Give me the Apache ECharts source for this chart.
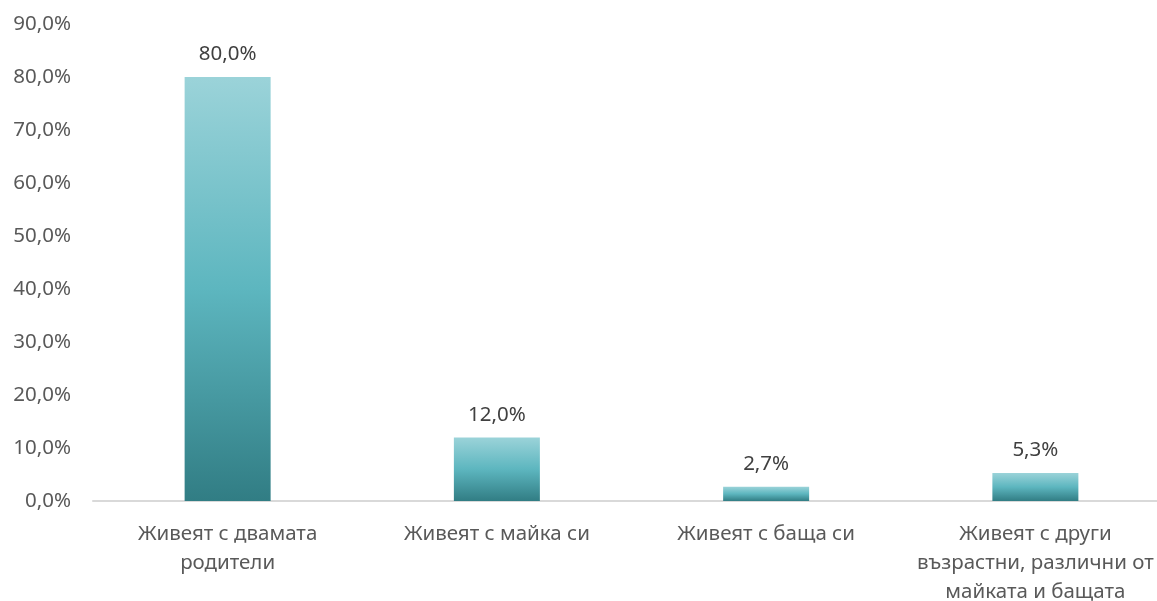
<!DOCTYPE html>
<html>
<head>
<meta charset="utf-8">
<script src="https://cdn.jsdelivr.net/npm/echarts@6/dist/echarts.min.js"></script>
<style>html,body{margin:0;padding:0;background:#fff}#c{width:1157px;height:601px}</style>
</head>
<body>
<div id="c"></div>
<script>
const categories = [
  "Живеят с двамата\nродители",
  "Живеят с майка си",
  "Живеят с баща си",
  "Живеят с други\nвъзрастни, различни от\nмайката и бащата"
];
const values = [80.0, 12.0, 2.7, 5.3];
const yTicks = { min: 0, max: 90, interval: 10 };

const fmt = v => v.toFixed(1).replace('.', ',') + '%';
const chart = echarts.init(document.getElementById('c'), null, { renderer: 'canvas' });
chart.setOption({
  animation: false,
  grid: { left: 93, right: -13, top: 24, bottom: 100, containLabel: false, outerBoundsMode: 'none' },
  xAxis: {
    type: 'category',
    data: categories,
    axisLine: { lineStyle: { color: '#d9d9d9', width: 2 } },
    axisTick: { show: false },
    axisLabel: { color: '#595959', fontFamily: 'Noto Sans', fontSize: 20.5, lineHeight: 29, margin: 19, interval: 0 }
  },
  yAxis: {
    type: 'value',
    min: yTicks.min, max: yTicks.max, interval: yTicks.interval,
    splitLine: { show: false },
    axisLine: { show: false },
    axisTick: { show: false },
    axisLabel: { color: '#595959', fontFamily: 'Noto Sans', fontSize: 20.5, margin: 22, formatter: v => fmt(v) }
  },
  series: [{
    type: 'bar',
    data: values,
    barWidth: 86,
    z: 3,
    itemStyle: {
      color: new echarts.graphic.LinearGradient(0, 0, 0, 1, [
        { offset: 0, color: '#9bd3d9' },
        { offset: 0.5, color: '#5db6bf' },
        { offset: 1, color: '#317d84' }
      ])
    },
    label: {
      show: true, position: 'top', distance: 12,
      color: '#404040', fontFamily: 'Noto Sans', fontSize: 20.5,
      formatter: p => fmt(p.value)
    }
  }]
});
</script>
</body>
</html>
